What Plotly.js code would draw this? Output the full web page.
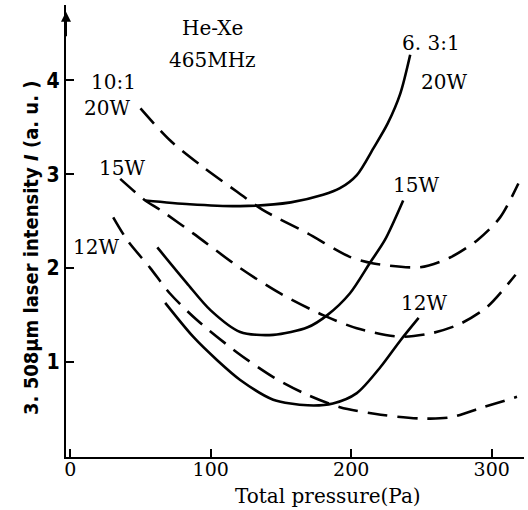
<!DOCTYPE html>
<html>
<head>
<meta charset="utf-8">
<script src="https://cdn.plot.ly/plotly-3.0.1.min.js"></script>
<style>html,body{margin:0;padding:0;background:#fff;}#chart{width:528px;height:510px;}</style>
</head>
<body>
<div id="chart"></div>
<script>
// 6.3:1 mixture (solid curves)
const solid20W_x = [53.4, 85, 121, 157, 180, 192, 204, 216, 226, 235, 242];
const solid20W_y = [2.72, 2.68, 2.66, 2.70, 2.78, 2.85, 2.99, 3.28, 3.54, 3.86, 4.27];
const solid15W_x = [62, 83, 100, 121, 144.5, 169, 183, 199, 213.5, 224, 237];
const solid15W_y = [2.22, 1.84, 1.55, 1.32, 1.29, 1.37, 1.50, 1.73, 2.06, 2.30, 2.72];
const solid12W_x = [67.6, 87.5, 104.6, 121, 144.5, 169, 187, 204, 221, 235, 248];
const solid12W_y = [1.63, 1.27, 1.02, 0.81, 0.60, 0.54, 0.56, 0.67, 0.95, 1.23, 1.47];
// 10:1 mixture (dashed curves)
const dash20W_x = [50, 71, 95, 119, 137, 169, 199, 216, 249, 270, 290, 306, 319];
const dash20W_y = [3.70, 3.36, 3.07, 2.81, 2.62, 2.37, 2.12, 2.05, 2.01, 2.11, 2.30, 2.54, 2.90];
const dash15W_x = [35.6, 53.4, 64, 87.5, 121, 149.5, 180, 204, 235, 258, 278, 297, 317];
const dash15W_y = [2.95, 2.72, 2.62, 2.37, 2.00, 1.73, 1.50, 1.36, 1.27, 1.31, 1.41, 1.59, 1.93];
const dash12W_x = [30.6, 40.5, 57, 71, 90, 119, 144.5, 169, 192, 221, 249, 270, 294, 318];
const dash12W_y = [2.54, 2.30, 2.00, 1.73, 1.45, 1.10, 0.84, 0.65, 0.52, 0.44, 0.40, 0.41, 0.52, 0.63];

const xTicks = [0, 100, 200, 300];
const yTicks = [1, 2, 3, 4];

const xTitle = 'Total pressure(Pa)';
const yTitle = '3. 508μm laser intensity <i>I</i> (a. u. )';

const labelTexts = ['He-Xe', '465MHz', '10:1', '20W', '15W', '12W', '6. 3:1', '20W', '15W', '12W'];
const labelX = [101, 101, 31, 26, 37, 18, 257, 266, 246, 252];
const labelY = [4.55, 4.21, 3.98, 3.70, 3.07, 2.22, 4.40, 3.98, 2.88, 1.63];

const SERIF = 'DejaVu Serif, Liberation Serif, serif';
const NARROW = 'Liberation Sans Narrow, DejaVu Sans Condensed, Arial Narrow, sans-serif';
const solidLine = {color: '#000', width: 2.6, shape: 'spline', smoothing: 0.8};
const dashLine = {color: '#000', width: 2.6, shape: 'spline', smoothing: 0.8, dash: '20px,10px'};

const traces = [
  {x: solid20W_x, y: solid20W_y, mode: 'lines', line: solidLine, name: '6.3:1 20W'},
  {x: solid15W_x, y: solid15W_y, mode: 'lines', line: solidLine, name: '6.3:1 15W'},
  {x: solid12W_x, y: solid12W_y, mode: 'lines', line: solidLine, name: '6.3:1 12W'},
  {x: dash20W_x, y: dash20W_y, mode: 'lines', line: dashLine, name: '10:1 20W'},
  {x: dash15W_x, y: dash15W_y, mode: 'lines', line: dashLine, name: '10:1 15W'},
  {x: dash12W_x, y: dash12W_y, mode: 'lines', line: dashLine, name: '10:1 12W'}
];

const annotations = labelTexts.map((t, i) => ({
  x: labelX[i], y: labelY[i], xref: 'x', yref: 'y', text: t, showarrow: false,
  xanchor: 'center', yanchor: 'middle',
  font: {family: SERIF, size: 20, color: '#000'}
}));
annotations.push({
  xref: 'paper', yref: 'paper', x: 0.572, y: -0.086, text: xTitle, showarrow: false,
  xanchor: 'center', yanchor: 'middle',
  font: {family: SERIF, size: 20, color: '#000'}
});
annotations.push({
  xref: 'paper', yref: 'paper', x: -0.077, y: 0.462, text: '<b>' + yTitle + '</b>', showarrow: false,
  xanchor: 'center', yanchor: 'middle',
  textangle: -90, font: {family: NARROW, size: 20, color: '#000'}
});
// arrowhead at top of the y axis
annotations.push({
  xref: 'paper', yref: 'paper', x: 0, y: 0.985, text: '', showarrow: true,
  ax: 0, ay: 26, arrowhead: 2, arrowsize: 1, arrowwidth: 2, arrowcolor: '#000'
});

const layout = {
  width: 528, height: 510,
  margin: {l: 66, r: 4, t: 5, b: 53},
  paper_bgcolor: '#fff', plot_bgcolor: '#fff',
  showlegend: false,
  font: {family: SERIF, color: '#000'},
  xaxis: {
    range: [-3, 323], showgrid: false, zeroline: false,
    showline: true, linecolor: '#000', linewidth: 2.2,
    ticks: 'inside', ticklen: 8, tickwidth: 2, tickcolor: '#000',
    tickvals: xTicks, ticktext: xTicks.map(String),
    tickfont: {family: SERIF, size: 19, color: '#000'},
    ticklabelstandoff: -6
  },
  yaxis: {
    range: [-0.01, 4.8], showgrid: false, zeroline: false,
    showline: true, linecolor: '#000', linewidth: 2.2,
    ticks: 'inside', ticklen: 8, tickwidth: 2, tickcolor: '#000',
    tickvals: yTicks, ticktext: yTicks.map(v => '<b>' + v + '</b>'),
    tickfont: {family: NARROW, size: 21, color: '#000'}
  },
  annotations: annotations
};

Plotly.newPlot('chart', traces, layout, {displayModeBar: false, staticPlot: true});
</script>
</body>
</html>
